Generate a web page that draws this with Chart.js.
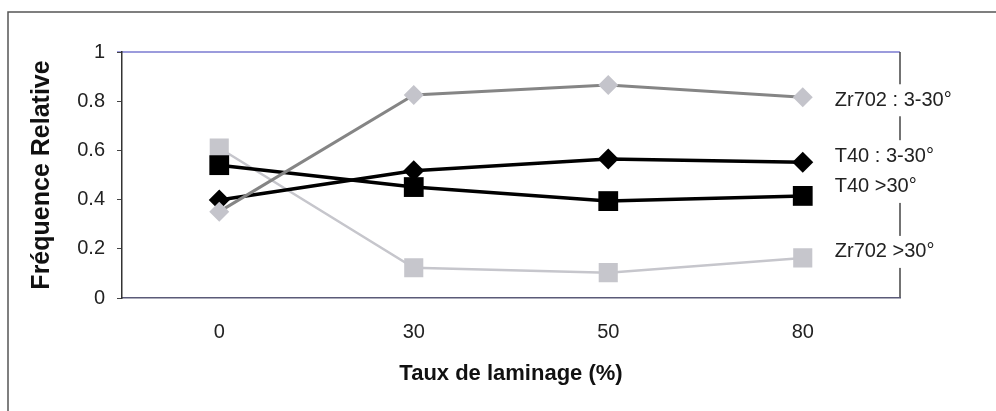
<!DOCTYPE html>
<html>
<head>
<meta charset="utf-8">
<script src="https://cdn.jsdelivr.net/npm/chart.js@4/dist/chart.umd.min.js"></script>
<style>
    body { margin: 0; background: #fff; }
    #chart { display: block; }
</style>
</head>
<body>
<canvas id="chart" width="996" height="411"></canvas>
<script>
const categories = ['0', '30', '50', '80'];
const zr702Low = [0.351, 0.825, 0.866, 0.816];
const t40Low = [0.398, 0.517, 0.565, 0.552];
const t40High = [0.54, 0.451, 0.394, 0.415];
const zr702High = [0.61, 0.123, 0.103, 0.163];
const yTicks = [0, 0.2, 0.4, 0.6, 0.8, 1];

const FONT = "'Liberation Sans', Arial, sans-serif";

// outer frame, plot border and the labels at the right end of each line
const framePlugin = {
    id: 'frame',
    beforeDraw(chart) {
        const ctx = chart.ctx;
        const area = chart.chartArea;
        ctx.save();
        ctx.fillStyle = '#fff';
        ctx.fillRect(0, 0, chart.width, chart.height);
        ctx.strokeStyle = '#555';
        ctx.lineWidth = 1.5;
        ctx.beginPath();
        ctx.moveTo(8, chart.height);
        ctx.lineTo(8, 12);
        ctx.lineTo(chart.width, 12);
        ctx.stroke();

        ctx.lineWidth = 1.5;
        ctx.strokeStyle = '#7a7ad0';
        ctx.beginPath();
        ctx.moveTo(area.left - 5, area.top);
        ctx.lineTo(area.right, area.top);
        ctx.stroke();
        ctx.strokeStyle = '#444';
        ctx.beginPath();
        ctx.moveTo(area.right, area.top);
        ctx.lineTo(area.right, area.bottom);
        ctx.stroke();
        ctx.restore();
    },
    afterDatasetsDraw(chart) {
        const ctx = chart.ctx;
        ctx.save();
        ctx.font = '20px ' + FONT;
        ctx.textBaseline = 'middle';
        ctx.textAlign = 'left';
        chart.data.datasets.forEach((ds, i) => {
            const meta = chart.getDatasetMeta(i);
            const pt = meta.data[meta.data.length - 1];
            const x = pt.x + 32;
            const y = pt.y + (ds.labelDy || 0);
            const w = ctx.measureText(ds.label).width;
            ctx.fillStyle = '#fff';
            ctx.fillRect(x - 6, y - 16, w + 12, 32);
            ctx.fillStyle = '#222';
            ctx.fillText(ds.label, x, y);
        });
        ctx.restore();
    }
};

new Chart(document.getElementById('chart'), {
    type: 'line',
    data: {
        labels: categories,
        datasets: [
            {
                label: 'Zr702 : 3-30°',
                data: zr702Low,
                borderColor: '#858585',
                borderWidth: 3,
                pointStyle: 'rectRot',
                pointRadius: 10,
                pointBackgroundColor: '#c4c4cb',
                pointBorderColor: '#c4c4cb',
                pointBorderWidth: 0,
                labelDy: 3,
            },
            {
                label: 'T40 : 3-30°',
                data: t40Low,
                borderColor: '#000',
                borderWidth: 3.5,
                pointStyle: 'rectRot',
                pointRadius: 10.5,
                pointBackgroundColor: '#000',
                pointBorderColor: '#000',
                pointBorderWidth: 0,
                labelDy: -6,
            },
            {
                label: 'T40 >30°',
                data: t40High,
                borderColor: '#000',
                borderWidth: 3.5,
                pointStyle: 'rect',
                pointRadius: 14,
                pointBackgroundColor: '#000',
                pointBorderColor: '#000',
                pointBorderWidth: 0,
                labelDy: -9,
            },
            {
                label: 'Zr702 >30°',
                data: zr702High,
                borderColor: '#c6c6cc',
                borderWidth: 2.5,
                pointStyle: 'rect',
                pointRadius: 13.5,
                pointBackgroundColor: '#c6c6cc',
                pointBorderColor: '#c6c6cc',
                pointBorderWidth: 0,
                labelDy: -6,
            },
        ],
    },
    options: {
        responsive: false,
        animation: false,
        layout: { padding: { top: 52, right: 96, left: 0, bottom: 0 } },
        plugins: {
            legend: { display: false },
            tooltip: { enabled: false },
        },
        elements: { line: { tension: 0 } },
        scales: {
            x: {
                offset: true,
                afterFit(scale) { scale.height = 113; },
                grid: { display: false, drawTicks: false },
                border: { display: true, color: '#5a5a78', width: 1.5 },
                ticks: {
                    padding: 22,
                    color: '#222',
                    font: { family: FONT, size: 20 },
                },
                title: {
                    display: true,
                    text: 'Taux de laminage (%)',
                    color: '#111',
                    font: { family: FONT, size: 22, weight: 'bold' },
                    padding: { top: 0, bottom: 24 },
                },
            },
            y: {
                min: 0,
                max: 1,
                afterFit(scale) { scale.width = 122; },
                afterBuildTicks(scale) { scale.ticks = yTicks.map((v) => ({ value: v })); },
                grid: { drawOnChartArea: false, drawTicks: true, tickLength: 5, color: '#444' },
                border: { display: true, color: '#333', width: 1.5 },
                ticks: {
                    padding: 12,
                    color: '#222',
                    font: { family: FONT, size: 20 },
                    callback: (v) => String(v),
                },
                title: {
                    display: true,
                    text: 'Fréquence Relative',
                    color: '#111',
                    font: { family: FONT, size: 25, weight: 'bold' },
                    padding: { top: 27 },
                },
            },
        },
    },
    plugins: [framePlugin],
});
</script>
</body>
</html>
